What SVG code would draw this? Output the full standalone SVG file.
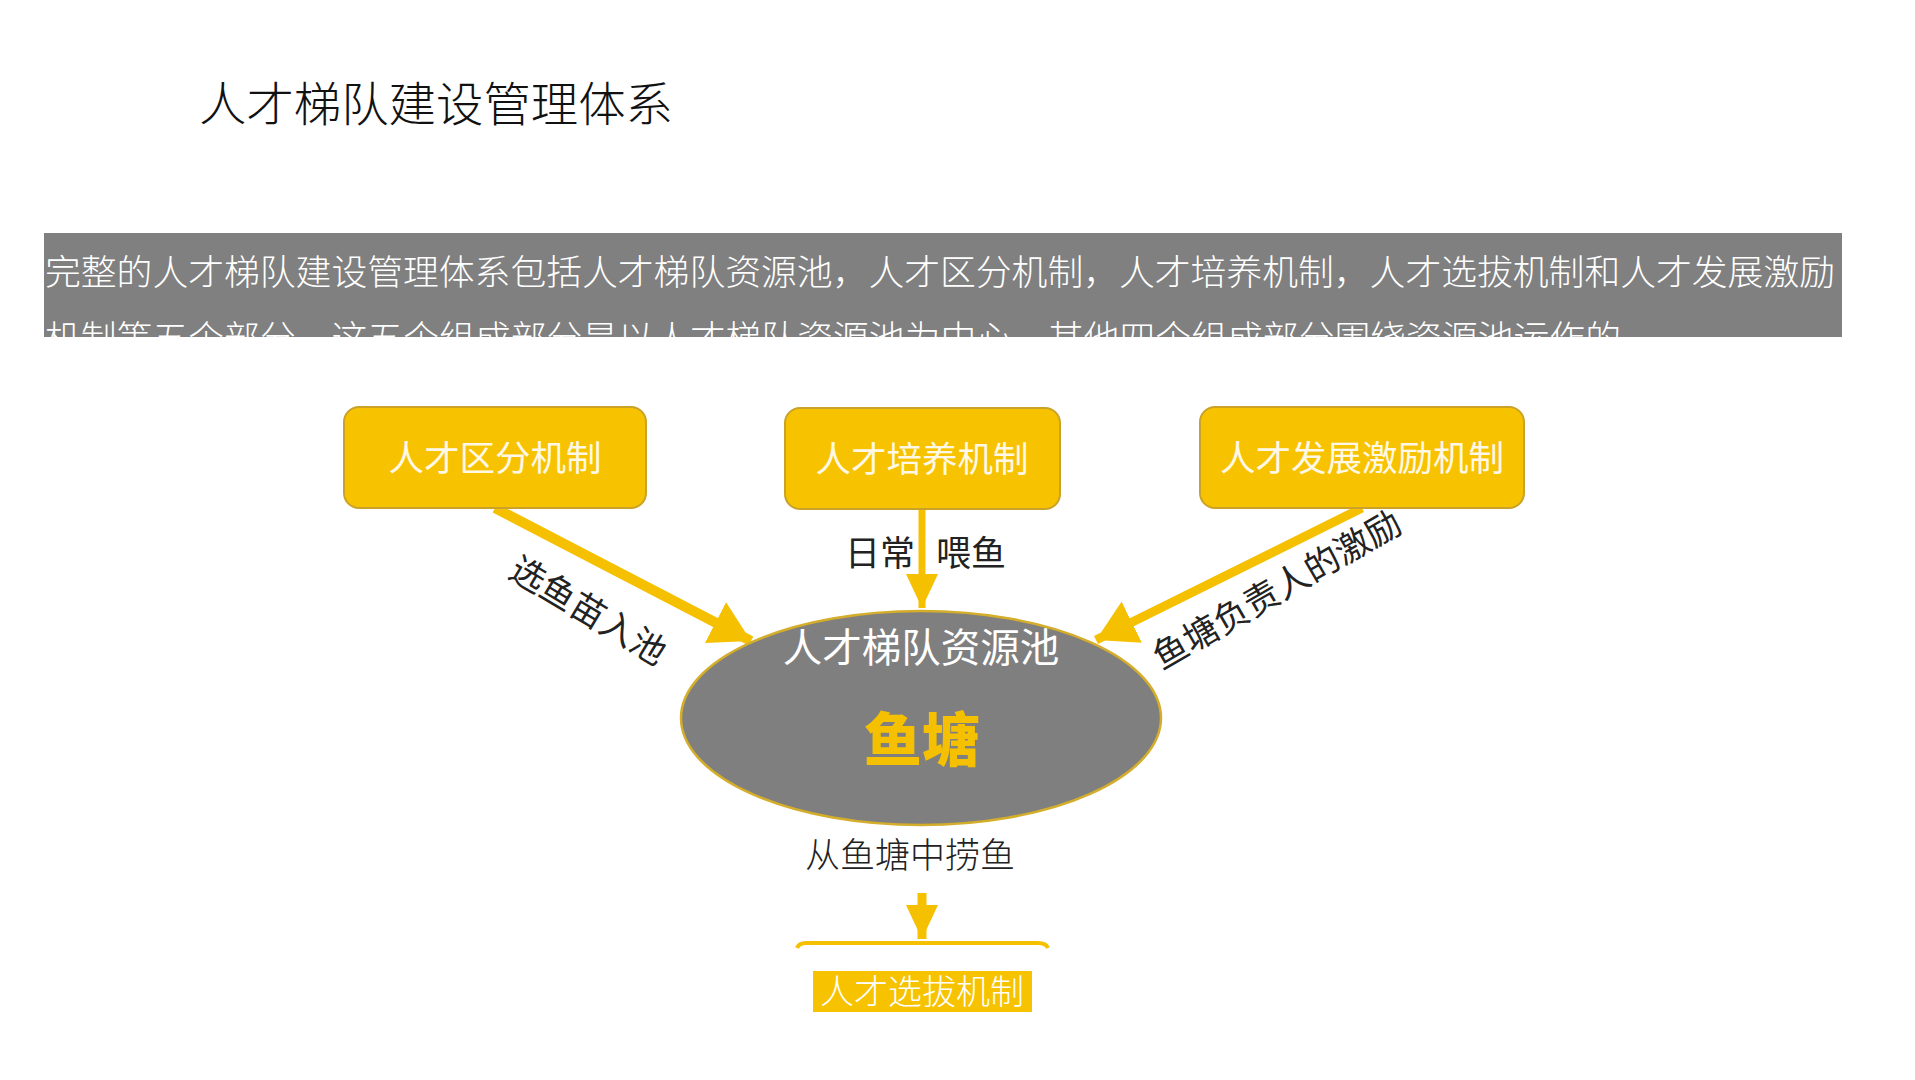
<svg xmlns="http://www.w3.org/2000/svg" width="1915" height="1080" viewBox="0 0 1915 1080">
<style>
.t{font-family:"Noto Sans CJK SC","Noto Sans",sans-serif;}
.title{font-size:47px;fill:#111;font-weight:300;}
.band{font-size:35.5px;fill:#fff;font-weight:300;}
.box{fill:#F7C300;stroke:#C9A227;stroke-width:2;}
.bt{font-size:35.5px;fill:#FFF8E6;text-anchor:middle;}
.lbl{font-size:35px;fill:#222;text-anchor:middle;}
.conn{stroke:#F5C000;fill:none;}
</style>
<defs>
<marker id="big" markerUnits="userSpaceOnUse" markerWidth="42" markerHeight="46" refX="40" refY="23" orient="auto">
<path d="M0,0 L40,23 L0,46 Z" fill="#F5C000"/>
</marker>
<marker id="small" markerUnits="userSpaceOnUse" markerWidth="36" markerHeight="32" refX="34" refY="16" orient="auto">
<path d="M0,0 L34,16 L0,32 Z" fill="#F5C000"/>
</marker>
<clipPath id="bandclip"><rect x="44" y="233" width="1798" height="104"/></clipPath>
</defs>
<rect width="1915" height="1080" fill="#fff"/>
<text class="t title" x="199" y="121" textLength="474" lengthAdjust="spacingAndGlyphs">人才梯队建设管理体系</text>
<g id="intro">
<rect x="44" y="233" width="1798" height="104" fill="#808080"/>
<g clip-path="url(#bandclip)">
<text class="t band" x="45" y="285" textLength="1790" lengthAdjust="spacingAndGlyphs">完整的人才梯队建设管理体系包括人才梯队资源池，人才区分机制，人才培养机制，人才选拔机制和人才发展激励</text>
<text class="t band" x="45" y="351" textLength="1576" lengthAdjust="spacingAndGlyphs">机制等五个部分，这五个组成部分是以人才梯队资源池为中心，其他四个组成部分围绕资源池运作的</text>
</g>
</g>
<g id="connectors">
<line class="conn" x1="495" y1="508" x2="751" y2="641" stroke-width="10" marker-end="url(#big)"/>
<line class="conn" x1="922" y1="509" x2="922" y2="608" stroke-width="7" marker-end="url(#small)"/>
<line class="conn" x1="1362" y1="508" x2="1096" y2="640" stroke-width="9" marker-end="url(#big)"/>
<line class="conn" x1="922" y1="893" x2="922" y2="939" stroke-width="9" marker-end="url(#small)"/>
<text class="t lbl" x="880" y="566">日常</text>
<text class="t lbl" x="971" y="566">喂鱼</text>
<text class="t lbl" transform="translate(588,611) rotate(31)" x="0" y="12">选鱼苗入池</text>
<text class="t lbl" transform="translate(1277,590) rotate(-30)" x="0" y="12" font-size="36">鱼塘负责人的激励</text>
<text class="t lbl" x="910" y="868" style="font-weight:300">从鱼塘中捞鱼</text>
</g>
<g id="node-qufen">
<rect class="box" x="344" y="407" width="302" height="101" rx="15"/>
<text class="t bt" x="495" y="471">人才区分机制</text>
</g>
<g id="node-peiyang">
<rect class="box" x="785" y="408" width="275" height="101" rx="15"/>
<text class="t bt" x="922" y="472">人才培养机制</text>
</g>
<g id="node-jili">
<rect class="box" x="1200" y="407" width="324" height="101" rx="15"/>
<text class="t bt" x="1362" y="471">人才发展激励机制</text>
</g>
<g id="node-pool">
<ellipse cx="921" cy="718" rx="240" ry="107" fill="#7F7F7F" stroke="#D4AE2A" stroke-width="2.5"/>
<text class="t" x="921" y="662" font-size="39.5" fill="#fff" text-anchor="middle">人才梯队资源池</text>
<text class="t" x="922" y="761" font-size="58" font-weight="900" fill="#F5C000" text-anchor="middle">鱼塘</text>
</g>
<g id="node-xuanba">
<path d="M797,948 Q799,943 806,943 L1038,943 Q1046,943 1048,948" fill="none" stroke="#F5C000" stroke-width="4"/>
<rect x="813" y="971" width="219" height="41" fill="#F7C300"/>
<text class="t" x="922" y="1004" font-size="34" fill="#fff" text-anchor="middle" font-weight="300">人才选拔机制</text>
</g>
</svg>
